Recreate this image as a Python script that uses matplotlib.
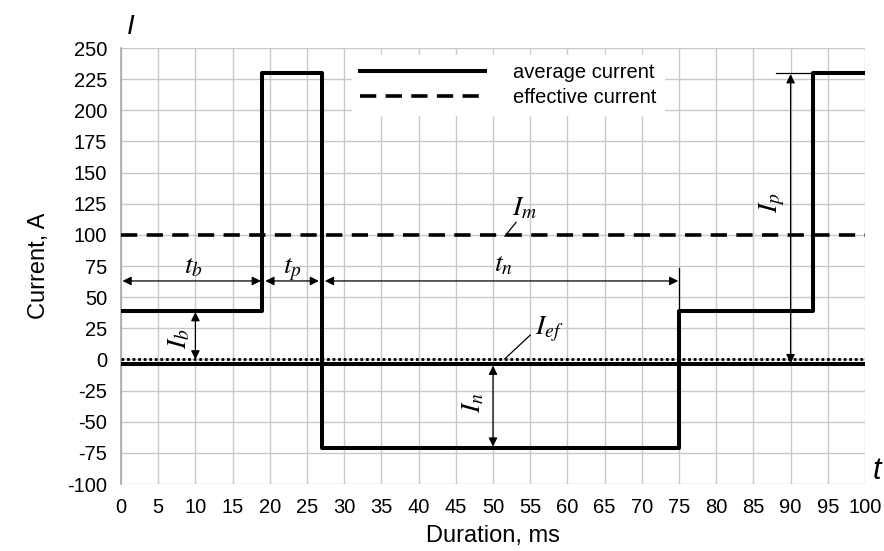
import matplotlib
matplotlib.use('Agg')
import matplotlib.pyplot as plt

# Données
t_edges = [0, 19, 27, 75, 93, 100]
i_levels = [39, 230, -71, 39, 230, 230]
i_avg = -4
i_eff = 100
i_zero = 0.5
x_ticks = list(range(0, 101, 5))
y_ticks = list(range(-100, 251, 25))

plt.rcParams['font.family'] = ['Liberation Sans', 'DejaVu Sans']
plt.rcParams['mathtext.fontset'] = 'stix'
plt.rcParams['axes.unicode_minus'] = False

fig = plt.figure(figsize=(8.84, 5.51), dpi=100)
ax = fig.add_axes([121 / 884, 1 - 484 / 551, 744 / 884, 436 / 551])

# Courbes
ax.step(t_edges, i_levels, where='post', color='black', lw=2.9, zorder=3)
ax.axhline(i_avg, color='black', lw=2.9, zorder=3, label='average current')
ax.axhline(i_eff, color='black', lw=2.6, dashes=(4.5, 2.6), zorder=3,
           label='effective current')
ax.axhline(i_zero, color='black', lw=2.0, linestyle=(0, (1, 1)), zorder=3)

ax.set_xlim(0, 100)
ax.set_ylim(-100, 250)
ax.set_xticks(x_ticks)
ax.set_yticks(y_ticks)
ax.tick_params(length=0, labelsize=14.5, pad=10)
ax.grid(color='#c8c8c8', lw=1)
ax.set_axisbelow(True)
for s in ['top', 'right', 'bottom']:
    ax.spines[s].set_visible(False)
ax.spines['left'].set_color('#a8a8a8')
ax.spines['left'].set_linewidth(1.2)

ax.set_xlabel('Duration, ms', fontsize=17, labelpad=6)
ax.set_ylabel('Current, A', fontsize=17, labelpad=12)

ax.text(0.008, 1.048, 'I', transform=ax.transAxes, fontsize=20,
        style='italic', ha='left', va='center')
ax.text(1.016, 0.03, 't', transform=ax.transAxes, fontsize=22,
        style='italic', ha='center', va='center')

leg = ax.legend(loc='upper left', bbox_to_anchor=(0.31, 0.985),
                borderaxespad=0, frameon=True, fancybox=False, framealpha=1,
                edgecolor='white', fontsize=14.5, handlelength=6.2,
                handletextpad=1.4, labelspacing=0.3)
leg.set_zorder(4)

# Flèches de cotation
def cote(x0, y0, x1, y1):
    ax.annotate('', xy=(x1, y1), xytext=(x0, y0),
                arrowprops=dict(arrowstyle='<|-|>', color='black', lw=0.9,
                                shrinkA=0, shrinkB=0, mutation_scale=13),
                zorder=5)

cote(0.2, 63, 18.8, 63)
cote(19.4, 63, 26.6, 63)
cote(27.4, 63, 74.9, 63)
cote(10, 0, 10, 38)
cote(50, -5, 50, -70)
cote(90, -3, 90, 229)
ax.plot([75, 75], [39, 73], color='black', lw=0.9, zorder=5)
ax.plot([88, 93], [230, 230], color='black', lw=0.9, zorder=5)

# Étiquettes
fs = 20
ax.text(9.7, 75, r'$t_b$', fontsize=fs, ha='center', va='center')
ax.text(23.1, 72, r'$t_p$', fontsize=fs, ha='center', va='center')
ax.text(51.4, 76, r'$t_n$', fontsize=fs, ha='center', va='center')
ax.text(7.9, 17, r'$I_b$', fontsize=fs, ha='center', va='center', rotation=90)
ax.text(47.3, -35, r'$I_n$', fontsize=fs, ha='center', va='center', rotation=90)
ax.text(87.6, 126, r'$I_p$', fontsize=fs, ha='center', va='center', rotation=90)
ax.text(54.2, 121, r'$I_m$', fontsize=fs, ha='center', va='center')
ax.text(57.6, 24, r'$I_{ef}$', fontsize=fs, ha='center', va='center')
ax.plot([51.6, 53.1], [99, 110], color='black', lw=0.9, zorder=5)
ax.plot([51.6, 55.0], [0.5, 19.5], color='black', lw=0.9, zorder=5)

fig.savefig('out.png', dpi=100)
